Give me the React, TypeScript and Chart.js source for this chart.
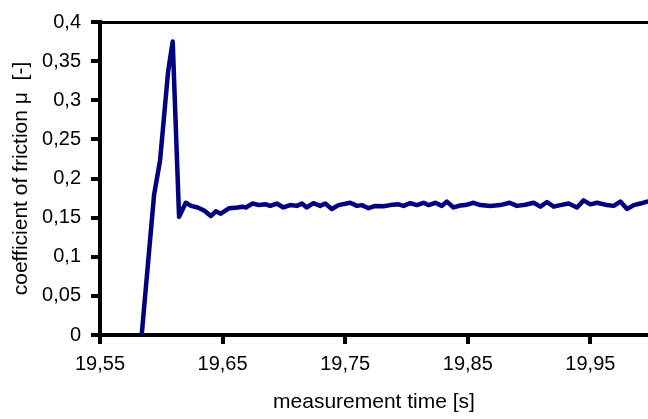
import React, { useEffect, useRef } from "react";
import { Chart, registerables } from "chart.js";

Chart.register(...registerables);

const times: number[] = [
  19.584, 19.5941, 19.599, 19.6055, 19.6093, 19.6145, 19.62, 19.6243, 19.6297, 19.635,
  19.6404, 19.6445, 19.6486, 19.6554, 19.6622, 19.6663, 19.669, 19.6745, 19.6799, 19.6854,
  19.6888, 19.6942, 19.6996, 19.7051, 19.7106, 19.7147, 19.7187, 19.7241, 19.7296, 19.7337,
  19.7391, 19.7445, 19.7541, 19.7596, 19.7636, 19.769, 19.7745, 19.7813, 19.7867, 19.7935,
  19.7976, 19.8031, 19.8085, 19.8139, 19.818, 19.8235, 19.8289, 19.833, 19.8384, 19.8439,
  19.848, 19.8547, 19.8602, 19.8684, 19.8765, 19.8841, 19.8901, 19.8969, 19.9037, 19.9092,
  19.9146, 19.9201, 19.9255, 19.9323, 19.9391, 19.9445, 19.95, 19.9555, 19.9636, 19.969,
  19.9745, 19.9799, 19.9854, 19.9908, 19.9962,
];

const friction: number[] = [
  0.0, 0.179, 0.223, 0.336, 0.375, 0.151, 0.169, 0.165, 0.163, 0.159,
  0.152, 0.158, 0.155, 0.162, 0.163, 0.164, 0.163, 0.168, 0.166, 0.167,
  0.165, 0.168, 0.163, 0.166, 0.165, 0.168, 0.163, 0.1685, 0.165, 0.168,
  0.161, 0.166, 0.169, 0.165, 0.166, 0.162, 0.165, 0.1645, 0.166, 0.167,
  0.165, 0.1685, 0.166, 0.169, 0.166, 0.169, 0.165, 0.1705, 0.163, 0.1655,
  0.166, 0.169, 0.166, 0.165, 0.166, 0.169, 0.165, 0.1665, 0.169, 0.164,
  0.17, 0.164, 0.166, 0.168, 0.163, 0.172, 0.167, 0.169, 0.166, 0.165,
  0.1705, 0.161, 0.166, 0.168, 0.1705,
];

const xTickValues: number[] = [19.55, 19.65, 19.75, 19.85, 19.95];
const xTickLabels: string[] = ["19,55", "19,65", "19,75", "19,85", "19,95"];
const yTickValues: number[] = [0, 0.05, 0.1, 0.15, 0.2, 0.25, 0.3, 0.35, 0.4];
const yTickLabels: string[] = ["0", "0,05", "0,1", "0,15", "0,2", "0,25", "0,3", "0,35", "0,4"];

const xMin = 19.55;
const xMax = 19.997;
const yMin = 0;
const yMax = 0.4;

const xTitle = "measurement time [s]";
const yTitle = "coefficient of friction \u03bc  [-]";

export default function App() {
  const ref = useRef<HTMLCanvasElement | null>(null);

  useEffect(() => {
    document.body.style.margin = "0";
    const canvas = ref.current;
    if (!canvas) return;
    const font = "'Liberation Sans', Arial, sans-serif";
    const chart = new Chart(canvas, {
      type: "line",
      data: {
        datasets: [
          {
            data: times.map((t, i) => ({ x: t, y: friction[i] })),
            borderColor: "#000080",
            borderWidth: 4.5,
            pointRadius: 0,
            tension: 0,
            borderJoinStyle: "round",
            borderCapStyle: "round",
            fill: false,
            xAxisID: "x",
            yAxisID: "y",
          },
        ],
      },
      options: {
        responsive: false,
        animation: false,
        layout: { padding: 0 },
        plugins: { legend: { display: false }, tooltip: { enabled: false } },
        scales: {
          x: {
            type: "linear",
            position: "bottom",
            min: xMin,
            max: xMax,
            afterBuildTicks: (s: any) => {
              s.ticks = xTickValues.map((v) => ({ value: v }));
            },
            afterFit: (s: any) => {
              s.height = 84;
            },
            ticks: {
              autoSkip: false,
              maxRotation: 0,
              padding: 8,
              color: "#000",
              font: { family: font, size: 20 },
              callback: (_v: any, i: number) => xTickLabels[i],
            },
            grid: {
              display: true,
              drawOnChartArea: false,
              drawTicks: true,
              tickLength: 9,
              tickWidth: 4,
              tickColor: "#000",
              color: "#000",
              lineWidth: 4,
            },
            border: { display: true, color: "#000", width: 4 },
            title: {
              display: true,
              text: xTitle,
              color: "#000",
              font: { family: font, size: 21 },
              padding: { top: 0, bottom: 4 },
            },
          },
          x2: {
            type: "linear",
            position: "top",
            min: xMin,
            max: xMax,
            afterFit: (s: any) => {
              s.height = 16;
            },
            ticks: { display: false },
            grid: { display: false, drawTicks: false },
            border: { display: true, color: "#000", width: 3 },
          },
          y: {
            type: "linear",
            position: "left",
            min: yMin,
            max: yMax,
            afterBuildTicks: (s: any) => {
              s.ticks = yTickValues.map((v) => ({ value: v }));
            },
            afterFit: (s: any) => {
              s.width = 100;
            },
            ticks: {
              autoSkip: false,
              padding: 10,
              color: "#000",
              font: { family: font, size: 20 },
              callback: (_v: any, i: number) => yTickLabels[i],
            },
            grid: {
              display: true,
              drawOnChartArea: false,
              drawTicks: true,
              tickLength: 9,
              tickWidth: 4,
              tickColor: "#000",
              color: "#000",
              lineWidth: 4,
            },
            border: { display: true, color: "#000", width: 4 },
            title: {
              display: true,
              text: yTitle,
              color: "#000",
              font: { family: font, size: 21 },
              padding: { top: 9, bottom: 0 },
            },
          },
        },
      },
    } as any);
    return () => chart.destroy();
  }, []);

  return <canvas ref={ref} width={648} height={419} style={{ display: "block" }} />;
}
